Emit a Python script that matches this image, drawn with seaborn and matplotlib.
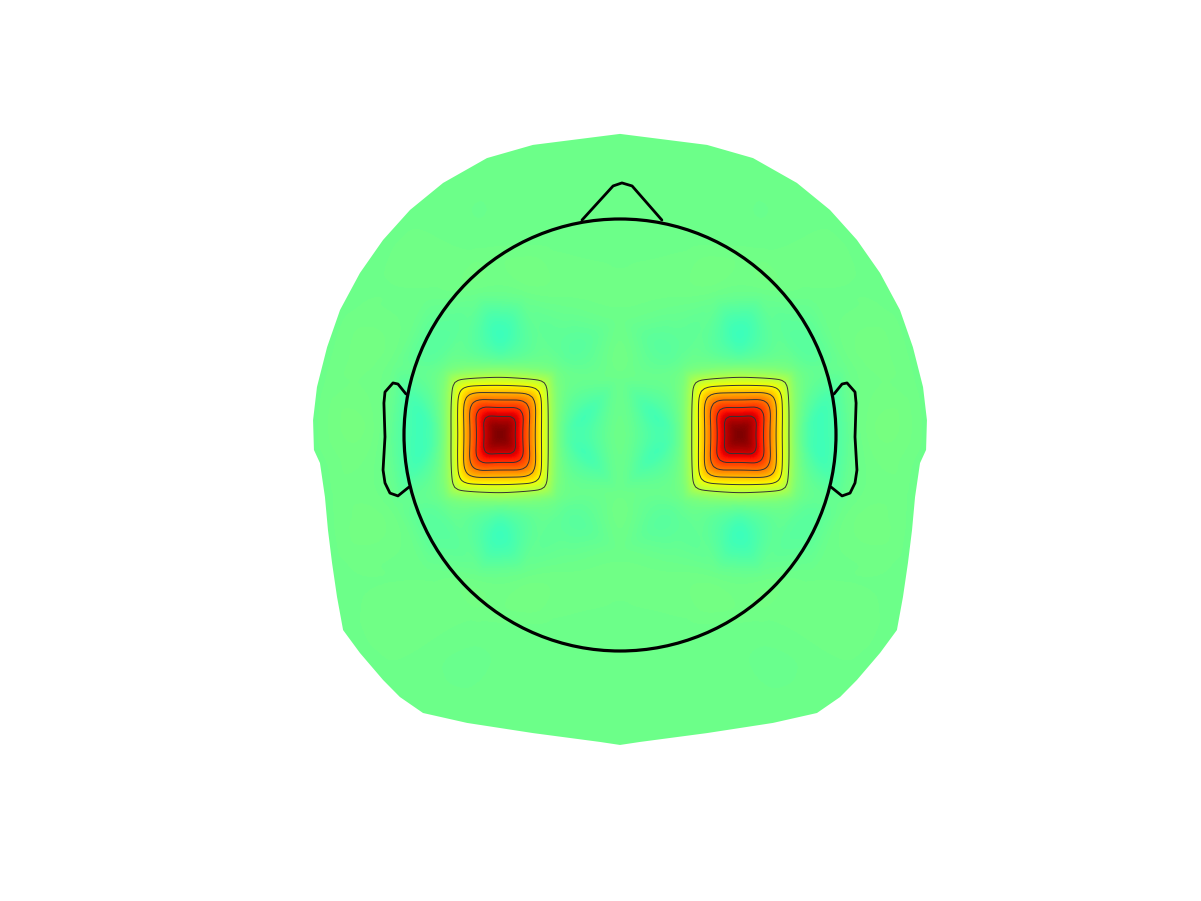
import numpy as np
import matplotlib
matplotlib.use("Agg")
import matplotlib.pyplot as plt
from matplotlib.patches import Circle, Polygon
import seaborn as sns
from scipy.interpolate import CloughTocher2DInterpolator

# electrode montage (10-10), polar coords: theta = angle from Cz (deg), phi = azimuth from nose (deg, + = right)
ch_names = ['Fp1', 'Fpz', 'Fp2',
            'AF7', 'AF3', 'AFz', 'AF4', 'AF8',
            'F7', 'F5', 'F3', 'F1', 'Fz', 'F2', 'F4', 'F6', 'F8',
            'FT7', 'FC5', 'FC3', 'FC1', 'FCz', 'FC2', 'FC4', 'FC6', 'FT8',
            'T7', 'C5', 'C3', 'C1', 'Cz', 'C2', 'C4', 'C6', 'T8',
            'TP7', 'CP5', 'CP3', 'CP1', 'CPz', 'CP2', 'CP4', 'CP6', 'TP8',
            'P7', 'P5', 'P3', 'P1', 'Pz', 'P2', 'P4', 'P6', 'P8',
            'PO7', 'PO3', 'POz', 'PO4', 'PO8',
            'O1', 'Oz', 'O2']
ch_theta = [72, 72, 72,
            72, 61.8, 54, 61.8, 72,
            72, 61.1, 51.0, 42.3, 36, 42.3, 51.0, 61.1, 72,
            72, 56.9, 41.9, 27.5, 18, 27.5, 41.9, 56.9, 72,
            72, 54, 36, 18, 0, 18, 36, 54, 72,
            72, 56.9, 41.9, 27.5, 18, 27.5, 41.9, 56.9, 72,
            72, 61.1, 51.0, 42.3, 36, 42.3, 51.0, 61.1, 72,
            72, 61.8, 54, 61.8, 72,
            72, 72, 72]
ch_phi = [-18, 0, 18,
          -36, -19.5, 0, 19.5, 36,
          -54, -45.0, -33.9, -19.4, 0, 19.4, 33.9, 45.0, 54,
          -72, -69.3, -59.3, -43.1, 0, 43.1, 59.3, 69.3, 72,
          -90, -90, -90, -90, 0, 90, 90, 90, 90,
          -108, -110.7, -120.7, -136.9, 180, 136.9, 120.7, 110.7, 108,
          -126, -135, -146.1, -160.6, 180, 160.6, 146.1, 135, 126,
          -144, -160.5, 180, 160.5, 144,
          -162, 180, 162]
# topography (average reference): C3 and C4 active, the rest at baseline
baseline = -0.033
peak = 0.967
ch_values = [peak if n in ('C3', 'C4') else baseline for n in ch_names]

# extrapolation outline, left half from top to bottom (head radius units); right half mirrored
mask_x = [0.0, -0.403, -0.616, -0.819, -0.972, -1.097, -1.204, -1.296, -1.356, -1.403, -1.421, -1.417,
          -1.389, -1.366, -1.352, -1.333, -1.310, -1.282, -1.204, -1.097, -1.019, -0.912, -0.708, -0.403, -0.093]
mask_y = [1.394, 1.343, 1.282, 1.167, 1.042, 0.903, 0.750, 0.579, 0.407, 0.222, 0.069, -0.069,
          -0.130, -0.287, -0.440, -0.593, -0.750, -0.903, -1.009, -1.134, -1.213, -1.287, -1.333, -1.380, -1.421]
mask_bottom = -1.435

# head outline (head radius units)
nose_x = [-0.176, -0.032, 0.009, 0.056, 0.194]
nose_y = [0.995, 1.153, 1.167, 1.153, 0.995]
ear_x = [-0.991, -1.028, -1.051, -1.088, -1.093, -1.088, -1.097, -1.088, -1.065, -1.028, -0.977]
ear_y = [0.190, 0.236, 0.241, 0.199, 0.148, -0.009, -0.162, -0.222, -0.269, -0.282, -0.241]

deg_per_r = 64.8   # degrees from Cz per head radius
res = 200

sns.set_style("white")

th = np.deg2rad(ch_phi)
rr = np.array(ch_theta) / deg_per_r
ex = rr * np.sin(th)
ey = rr * np.cos(th)

bx = np.array(mask_x + [0.0] + [-x for x in mask_x[::-1][:-1]])
by = np.array(mask_y + [mask_bottom] + mask_y[::-1][:-1])

px = np.concatenate([ex, bx])
py = np.concatenate([ey, by])
pv = np.concatenate([ch_values, np.full(len(bx), baseline)])

vmax = np.abs(ch_values).max()
interp = CloughTocher2DInterpolator(np.column_stack([px, py]), pv, fill_value=baseline)
xmin, xmax = bx.min(), bx.max()
ymin, ymax = by.min(), by.max()
gx, gy = np.meshgrid(np.linspace(xmin, xmax, res), np.linspace(ymin, ymax, res))
gz = interp(gx, gy)

fig = plt.figure(figsize=(12.01, 9.01), dpi=100)
ax = fig.add_axes([0, 0, 1, 1])
ax.set_xlim(-620 / 216, 581 / 216)
ax.set_ylim(-466 / 216, 435 / 216)
ax.axis('off')

outline = Polygon(np.column_stack([bx, by]), closed=True, transform=ax.transData,
                  facecolor='none', edgecolor='none')
ax.add_patch(outline)
im = ax.imshow(gz, cmap='jet', vmin=-vmax, vmax=vmax, origin='lower',
               extent=(xmin, xmax, ymin, ymax), interpolation='bilinear')
im.set_clip_path(outline)
levels = np.linspace(-vmax, vmax, 15)[8:-1]
cs = ax.contour(gx, gy, gz, levels=levels, colors='#333333', linewidths=0.7)
cs.set_clip_path(outline)

ax.add_patch(Circle((0, 0), 1.0, fill=False, edgecolor='k', linewidth=2.3))
ax.plot(nose_x, nose_y, color='k', linewidth=2.0)
ax.plot(ear_x, ear_y, color='k', linewidth=2.0)
ax.plot([-x for x in ear_x], ear_y, color='k', linewidth=2.0)

fig.savefig("out.png", dpi=100)
